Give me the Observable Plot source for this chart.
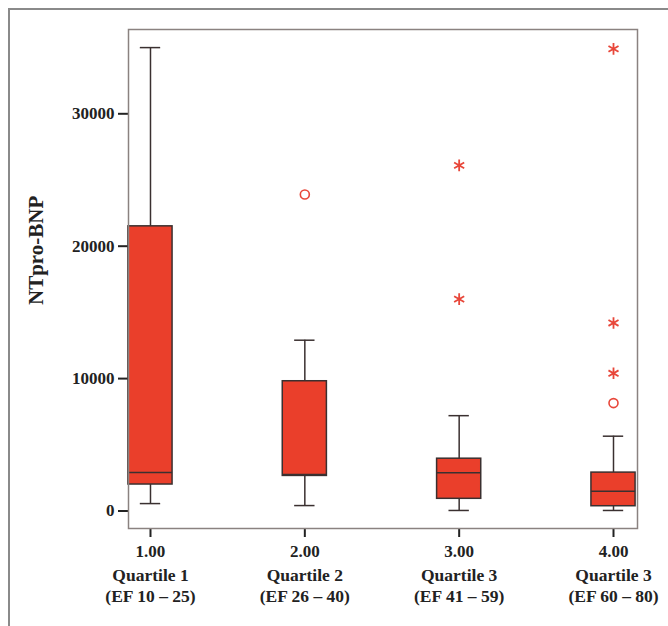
<!DOCTYPE html>
<html>
<head>
<meta charset="utf-8">
<script src="https://cdn.jsdelivr.net/npm/d3@7"></script>
<script src="https://cdn.jsdelivr.net/npm/@observablehq/plot@0.6"></script>
<style>
  html, body { margin: 0; padding: 0; background: #fff; }
  #wrap { position: relative; width: 668px; height: 626px; overflow: hidden; background: #fff; }
  #border { position: absolute; left: 8px; top: 8px; right: -4px; bottom: -4px;
            border-top: 2px solid #8a8a8a; border-left: 2px solid #8a8a8a; }
  #chart { position: absolute; left: 0; top: 0; }
</style>
</head>
<body>
<div id="wrap"><div id="border"></div><div id="chart"></div></div>
<script>
// ---- data ----
const groups = [1, 2, 3, 4];
const groupTickLabels = ["1.00", "2.00", "3.00", "4.00"];
const quartileLabels = ["Quartile 1", "Quartile 2", "Quartile 3", "Quartile 3"];
const efLabels = ["(EF 10 – 25)", "(EF 26 – 40)", "(EF 41 – 59)", "(EF 60 – 80)"];

const whiskerLow  = [560, 410, 40, 40];
const q1          = [2000, 2650, 920, 360];
const median      = [2900, 2760, 2890, 1500];
const q3          = [21500, 9800, 3950, 2900];
const whiskerHigh = [35000, 12900, 7200, 5650];

const outlierGroup = [2, 3, 3, 4, 4, 4, 4];
const outlierValue = [23900, 26100, 16000, 34900, 14200, 10400, 8150];
const outlierType  = ["circle", "star", "star", "star", "star", "star", "circle"];

const yTicks = [0, 10000, 20000, 30000];
const yLabel = "NTpro-BNP";

// ---- derived tables ----
const boxes = groups.map((g, i) => ({
  g, lo: whiskerLow[i], q1: q1[i], med: median[i], q3: q3[i], hi: whiskerHigh[i]
}));
const outliers = outlierGroup.map((g, i) => ({g, v: outlierValue[i], t: outlierType[i]}));

const halfBox = 0.143, halfCap = 0.066;
const boxFill = "#ea3f2b", dark = "#3a3030", red = "#e8473a";

const chart = Plot.plot({
  width: 668,
  height: 626,
  marginLeft: 128,
  marginRight: 31,
  marginTop: 29,
  marginBottom: 98,
  style: {fontFamily: "'Liberation Serif', 'Times New Roman', serif", fontSize: "17px", fontWeight: "bold", color: "#222", background: "transparent"},
  x: {domain: [0.8575, 4.1555], axis: null},
  y: {domain: [-1322, 36367], axis: null},
  marks: [
    Plot.axisY({ticks: yTicks, tickSize: 10, tickPadding: 4, tickFormat: d => String(d), strokeWidth: 2, stroke: "#222", label: null}),
    Plot.axisX({ticks: groups, tickSize: 9, tickPadding: 7, tickFormat: d => groupTickLabels[groups.indexOf(d)], strokeWidth: 2, stroke: "#222", label: null}),
    Plot.text(groups, {x: d => d, text: (d, i) => quartileLabels[i], frameAnchor: "bottom", dy: 52, fontSize: 17.5}),
    Plot.text(groups, {x: d => d, text: (d, i) => efLabels[i], frameAnchor: "bottom", dy: 73, fontSize: 17.5}),
    Plot.text([yLabel], {text: d => d, frameAnchor: "left", dx: -92, dy: 26, rotate: -90, fontSize: 21}),
    // whiskers
    Plot.ruleX(boxes, {x: "g", y1: "q3", y2: "hi", stroke: dark, strokeWidth: 1.5}),
    Plot.ruleX(boxes, {x: "g", y1: "lo", y2: "q1", stroke: dark, strokeWidth: 1.5}),
    Plot.ruleY(boxes, {y: "hi", x1: d => d.g - halfCap, x2: d => d.g + halfCap, stroke: dark, strokeWidth: 1.5}),
    Plot.ruleY(boxes, {y: "lo", x1: d => d.g - halfCap, x2: d => d.g + halfCap, stroke: dark, strokeWidth: 1.5}),
    // boxes
    Plot.rect(boxes, {x1: d => d.g - halfBox, x2: d => d.g + halfBox, y1: "q1", y2: "q3", fill: boxFill, stroke: dark, strokeWidth: 1.5}),
    Plot.ruleY(boxes, {y: "med", x1: d => d.g - halfBox, x2: d => d.g + halfBox, stroke: dark, strokeWidth: 1.5}),
    // outliers
    Plot.dot(outliers.filter(d => d.t === "circle"), {x: "g", y: "v", symbol: "circle", r: 4.5, stroke: red, strokeWidth: 1.6, fill: "none"}),
    Plot.dot(outliers.filter(d => d.t === "star"), {x: "g", y: "v", symbol: "asterisk", r: 5.5, stroke: red, strokeWidth: 1.8, fill: "none"}),
    Plot.frame({stroke: "#8a8280", strokeWidth: 1.5})
  ]
});
document.getElementById("chart").appendChild(chart);
</script>
</body>
</html>
